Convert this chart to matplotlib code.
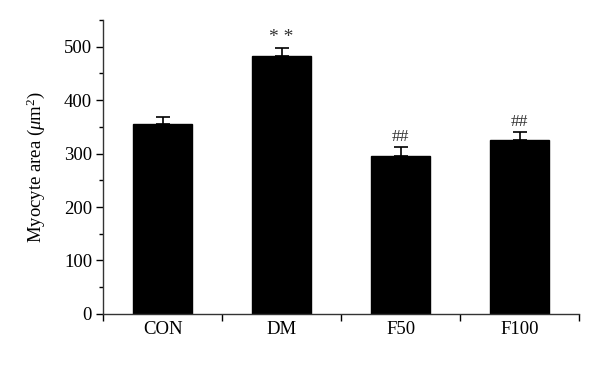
import matplotlib
matplotlib.use("Agg")
import matplotlib.pyplot as plt
import numpy as np
from matplotlib.ticker import MultipleLocator

categories = ["CON", "DM", "F50", "F100"]
values = [356, 483, 295, 326]
errors = [13, 15, 17, 15]
marks = ["", "* *", "##", "##"]

plt.rcParams['font.family'] = ['Liberation Serif', 'DejaVu Serif']
plt.rcParams['mathtext.fontset'] = 'custom'
plt.rcParams['mathtext.rm'] = 'Liberation Serif'
plt.rcParams['mathtext.it'] = 'Liberation Serif:italic'

fig = plt.figure(figsize=(6, 3.65), dpi=100)
ax = fig.add_axes([0.172, 0.14, 0.793, 0.805])

x = np.arange(1, len(categories) + 1)
ax.bar(x, values, width=0.5, color='black', edgecolor='black', zorder=2)
ax.errorbar(x, values, yerr=[np.zeros(len(errors)), errors], fmt='none',
            ecolor='black', elinewidth=1.2, capsize=4.7, capthick=1.2, zorder=1)
for xi, v, e, m in zip(x, values, errors, marks):
    if m:
        fs = 14 if '*' in m else 12.5
        ax.text(xi, v + e + 4, m, ha='center', va='bottom', fontsize=fs, color='#333333')

ax.set_xlim(0.5, 4.5)
ax.set_ylim(0, 550)
ax.set_xticks(np.arange(0.5, 4.6, 1.0))
ax.set_xticklabels([])
ax.set_xticks(x, minor=True)
ax.set_xticklabels(categories, minor=True)
ax.tick_params(axis='x', which='minor', length=0, labelsize=13.5, pad=5)
ax.tick_params(axis='x', which='major', length=5, direction='out', width=1)
ax.yaxis.set_major_locator(MultipleLocator(100))
ax.yaxis.set_minor_locator(MultipleLocator(50))
ax.tick_params(axis='y', which='major', length=5, width=1, labelsize=13.5, pad=3)
ax.tick_params(axis='y', which='minor', length=3, width=1)
ax.spines['top'].set_visible(False)
ax.spines['right'].set_visible(False)
for s in ['left', 'bottom']:
    ax.spines[s].set_linewidth(1)
    ax.spines[s].set_color('#333333')
ax.set_ylabel(r"Myocyte area ($\mu$m$^{2}$)", fontsize=13.5, labelpad=12)

fig.savefig("out.png", dpi=100)
